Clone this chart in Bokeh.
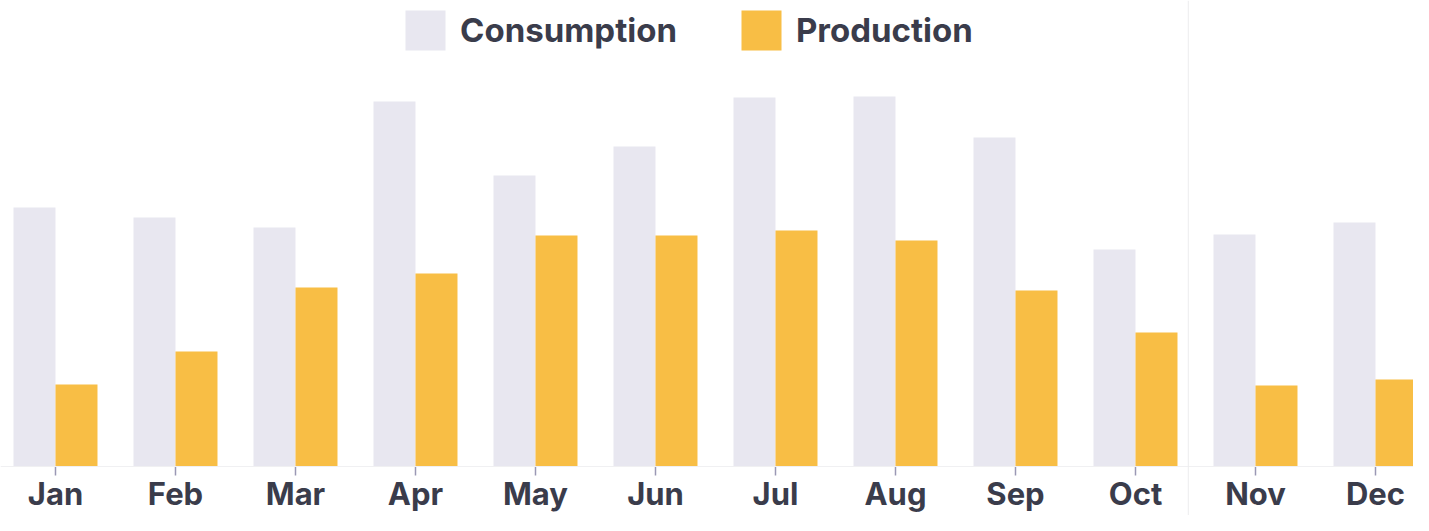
import numpy as np
from bokeh.plotting import figure
from bokeh.models import ColumnDataSource, Span, Legend, LegendItem
from bokeh.core.properties import value
from bokeh.embed import file_html
from bokeh.resources import INLINE

months = ["Jan", "Feb", "Mar", "Apr", "May", "Jun", "Jul", "Aug", "Sep", "Oct", "Nov", "Dec"]
consumption = [259, 249, 239, 365, 291, 320, 369, 370, 329, 217, 232, 244]
production = [82, 115, 179, 193, 231, 231, 236, 226, 176, 134, 81, 87]

FONT = "Inter"
TEXT_COLOR = "#3a3c4b"
CONS_COLOR = "#e8e7f0"
PROD_COLOR = "#f8be45"

idx = np.arange(len(months)) + 0.5
bar_w = 0.35

src = ColumnDataSource(dict(
    month=months,
    x=idx,
    xc=idx - bar_w / 2,
    xp=idx + bar_w / 2,
    cons=consumption,
    prod=production,
    zero=[0] * len(months),
    tick=[-9] * len(months),
    lab_y=[-27] * len(months),
))

p = figure(width=1413, height=515, output_backend="svg", toolbar_location=None,
           x_range=(0.0417, 11.8167), y_range=(-49, 466), min_border=0,
           x_axis_type=None, y_axis_type=None)
p.outline_line_color = None
p.grid.visible = False
p.background_fill_color = "white"

r_c = p.vbar(x="xc", top="cons", width=bar_w, source=src, fill_color=CONS_COLOR, line_color=None)
r_p = p.vbar(x="xp", top="prod", width=bar_w, source=src, fill_color=PROD_COLOR, line_color=None)

# baseline
p.add_layout(Span(location=0, dimension="width", line_color="#f0f0f2", line_width=1))
# separator line
p.add_layout(Span(location=9.94, dimension="height", line_color="#ececee", line_width=1))

# ticks
p.segment(x0="x", y0="zero", x1="x", y1="tick", source=src, line_color="#9a98b4", line_width=1.5)

# month labels
p.text(x="x", y="lab_y", text="month", source=src, text_align="center", text_baseline="middle",
       text_font=value(FONT), text_font_style="bold", text_font_size="31px", text_color=TEXT_COLOR)

legend = Legend(items=[LegendItem(label="Consumption", renderers=[r_c]),
                       LegendItem(label="Production", renderers=[r_p])],
                orientation="horizontal", location=(400, 460))
legend.glyph_width = 50
legend.glyph_height = 50
legend.label_text_font = FONT
legend.label_text_font_style = "bold"
legend.label_text_font_size = "33px"
legend.label_text_color = TEXT_COLOR
legend.label_standoff = 10
legend.spacing = 59
legend.padding = 0
legend.margin = 0
legend.border_line_color = None
legend.background_fill_alpha = 0
p.add_layout(legend)

open("out.html", "w").write(file_html(p, INLINE))
